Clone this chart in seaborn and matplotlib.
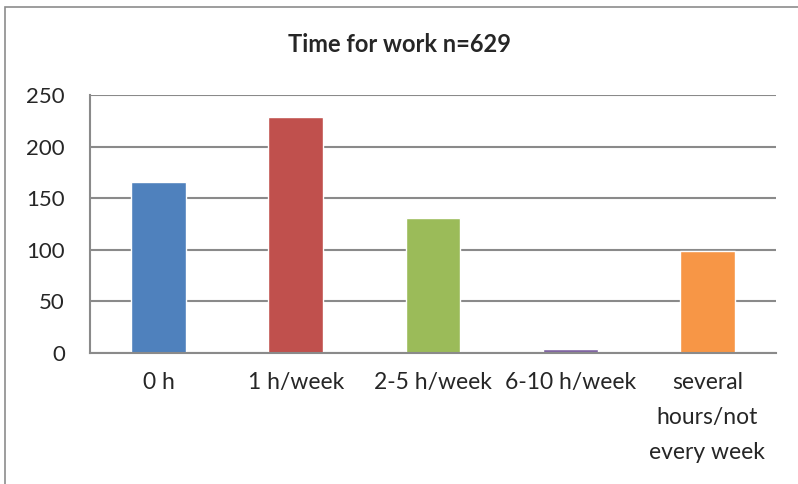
import matplotlib
matplotlib.use('Agg')
import matplotlib.pyplot as plt
import seaborn as sns
import pandas as pd
from matplotlib.patches import Rectangle

categories = ['0 h', '1 h/week', '2-5 h/week', '6-10 h/week',
              'several\nhours/not\nevery week']
counts = [166, 229, 131, 4, 99]
colors = ['#4F81BD', '#C0504D', '#9BBB59', '#8064A2', '#F79646']
yticks = [0, 50, 100, 150, 200, 250]

sns.set_style('white')
plt.rcParams['font.family'] = ['Lato', 'DejaVu Sans']

df = pd.DataFrame({'category': categories, 'count': counts})

fig = plt.figure(figsize=(7.98, 4.84), dpi=100)
ax = fig.add_axes([90 / 798, 1 - 353 / 484, 686 / 798, 258 / 484])

sns.barplot(data=df, x='category', y='count', hue='category',
            palette=colors, width=0.4, legend=False, saturation=1, ax=ax)

ax.set_ylim(0, 250)
ax.set_yticks(yticks)
ax.set_xlim(-0.5, 4.5)
ax.yaxis.grid(True, color='#8a8a8a', linewidth=1.5)
ax.set_axisbelow(True)
for s in ['top', 'right']:
    ax.spines[s].set_visible(False)
for s in ['left', 'bottom']:
    ax.spines[s].set_color('#8a8a8a')
    ax.spines[s].set_linewidth(1.5)
ax.set_xlabel('')
ax.set_ylabel('')
ax.tick_params(axis='y', labelsize=16, pad=18, length=0)
ax.tick_params(axis='x', labelsize=16.5, pad=14, length=0)
for t in ax.get_xticklabels():
    t.set_verticalalignment('top')
    t.set_linespacing(1.8)

fig.text(0.5, 1 - 45 / 484, 'Time for work n=629', ha='center',
         va='center', fontsize=17, fontweight='bold')

fig.patches.append(Rectangle((4.5 / 798, -0.1), 1.2, 1 - 7 / 484 + 0.1,
                             transform=fig.transFigure, fill=False,
                             edgecolor='#8c8c8c', linewidth=1.2))

plt.savefig('out.png', dpi=100)
